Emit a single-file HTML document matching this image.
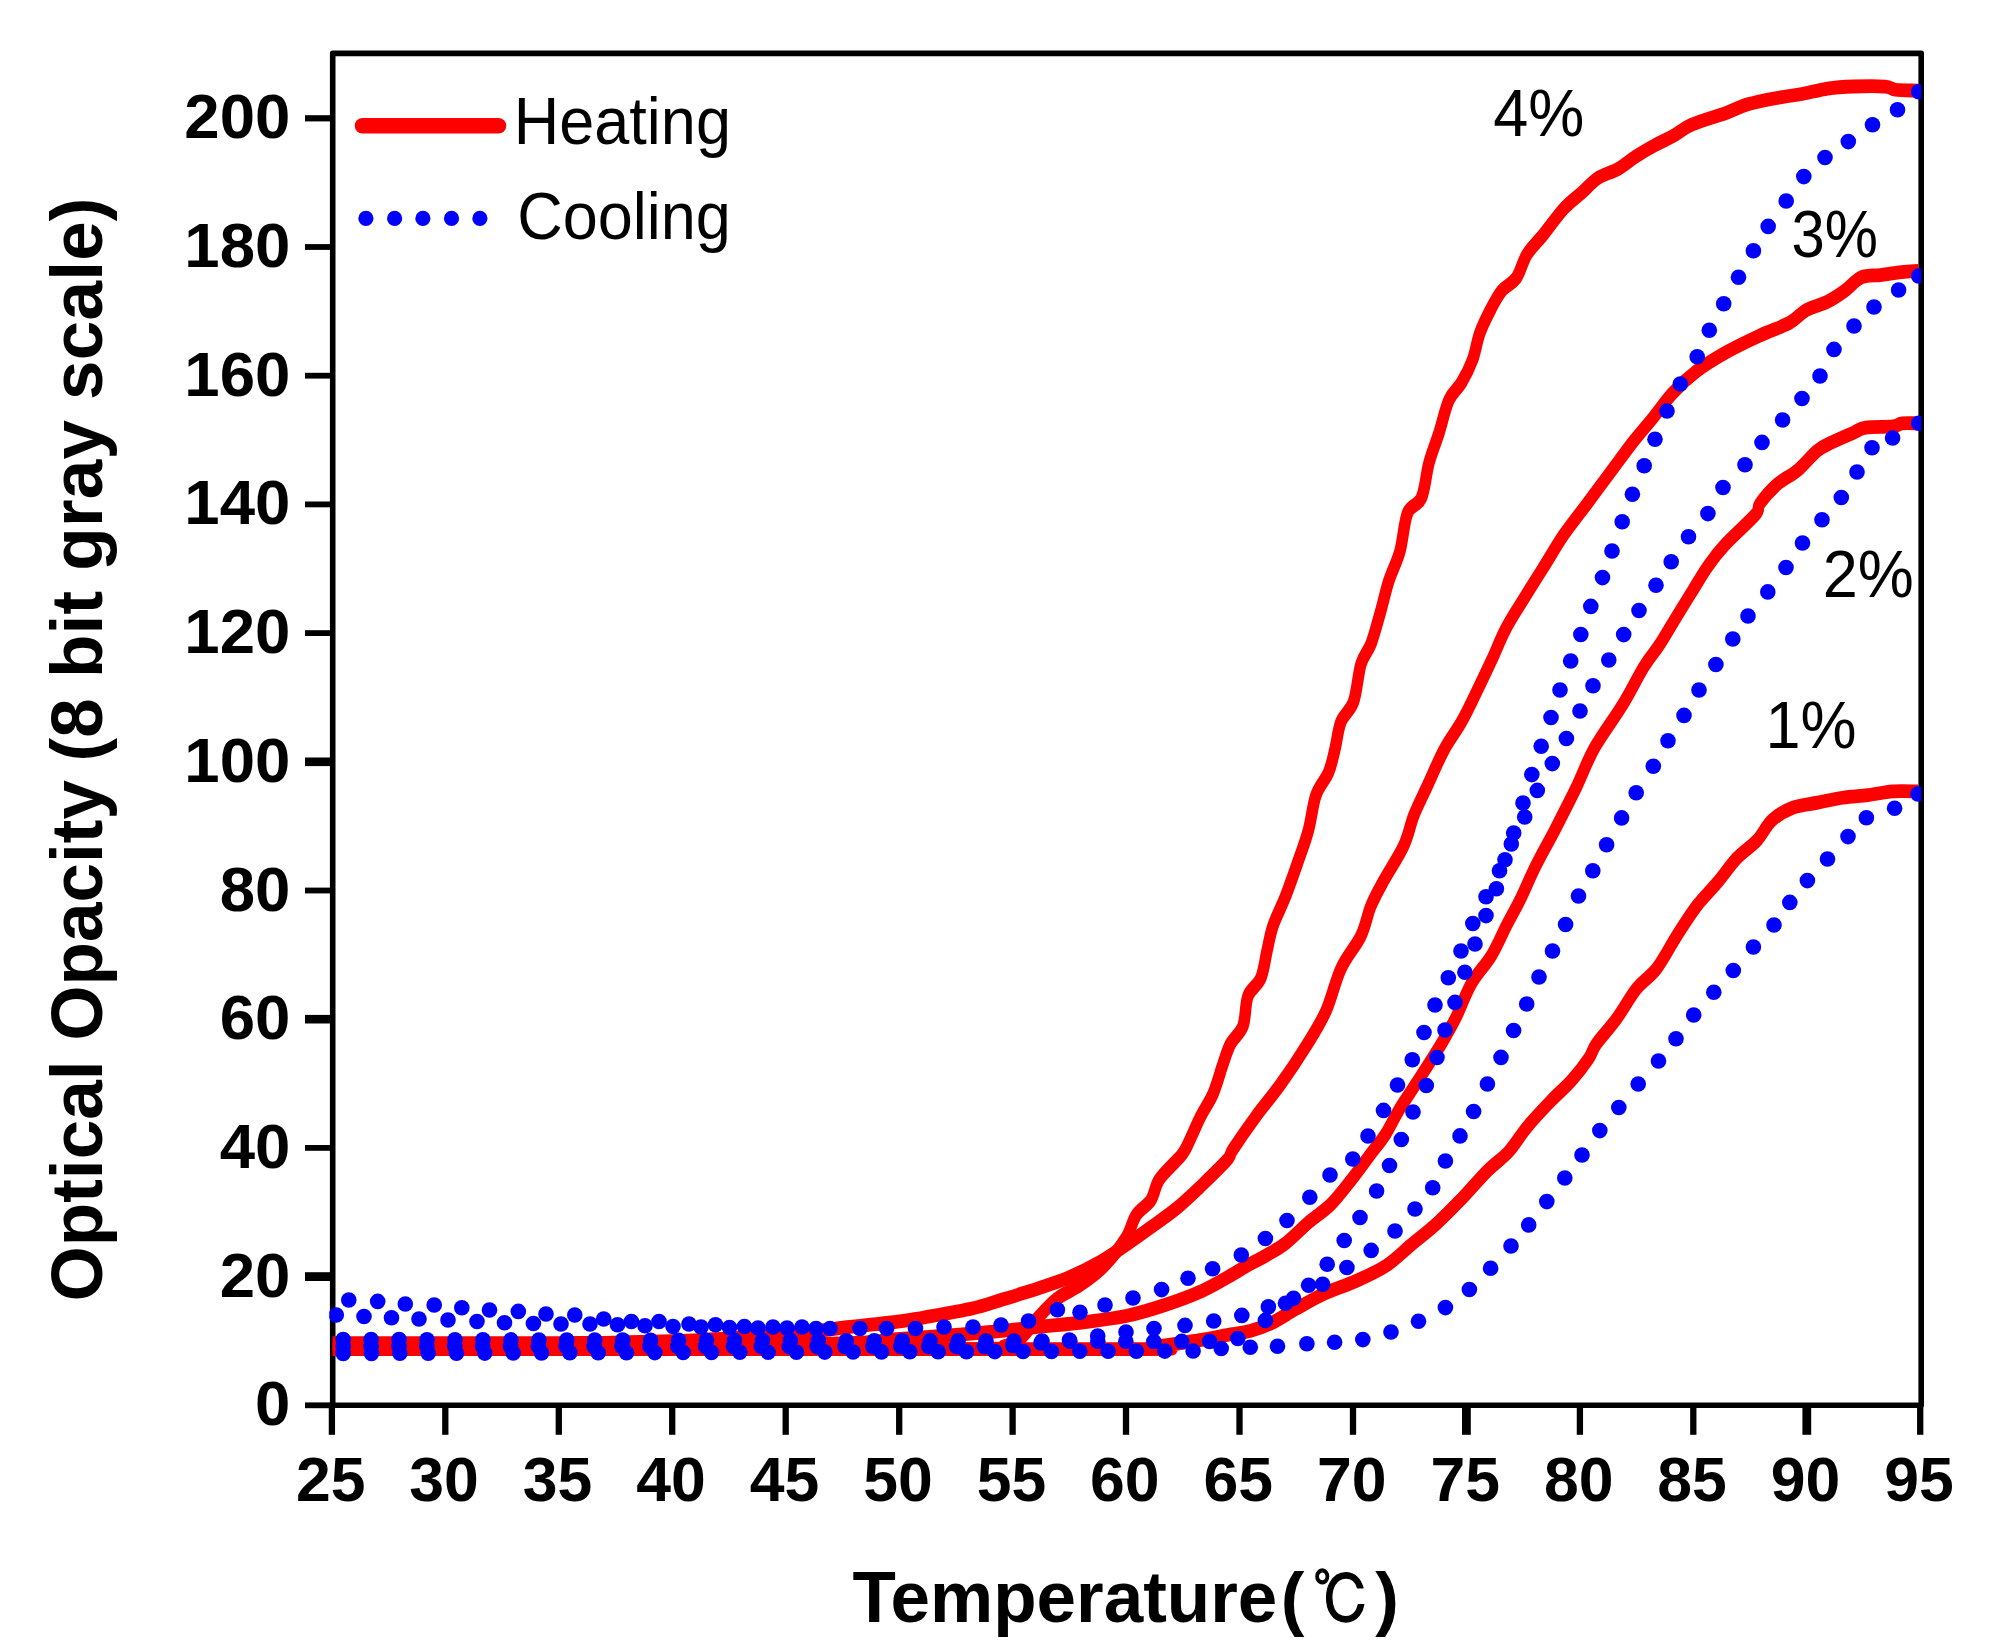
<!DOCTYPE html>
<html lang="en"><head><meta charset="utf-8"><title>Optical Opacity vs Temperature</title>
<style>html,body{margin:0;padding:0;background:#fff;}body{width:1991px;height:1651px;overflow:hidden;}svg{display:block;}text{font-family:"Liberation Sans","Noto Sans CJK SC",sans-serif;fill:#000;}.b{font-weight:bold;}.red{fill:none;stroke:#fe0000;stroke-width:11.5;stroke-linejoin:round;stroke-linecap:butt;}.blue{fill:none;stroke:#0000fe;stroke-width:15.6;stroke-linecap:round;stroke-linejoin:round;stroke-dasharray:0.01 28.34;}.dot{fill:#0000fe;}.ax{stroke:#000;fill:none;}</style></head><body>
<svg width="1991" height="1651" viewBox="0 0 1991 1651">
<rect x="0" y="0" width="1991" height="1651" fill="#fff"/>
<defs><clipPath id="plot"><rect x="329.2" y="53.4" width="1592.0" height="1351.6"/></clipPath></defs>
<g class="ax" stroke-linecap="butt">
<rect x="332.7" y="53.4" width="1588.5" height="1351.9" stroke-width="5.6" stroke-linejoin="round"/>
<line x1="305" y1="1405.3" x2="332.7" y2="1405.3" stroke-width="5.8"/>
<line x1="305" y1="1276.6" x2="332.7" y2="1276.6" stroke-width="8.8"/>
<line x1="305" y1="1147.9" x2="332.7" y2="1147.9" stroke-width="5.8"/>
<line x1="305" y1="1019.2" x2="332.7" y2="1019.2" stroke-width="8.6"/>
<line x1="305" y1="890.5" x2="332.7" y2="890.5" stroke-width="5.8"/>
<line x1="305" y1="761.8" x2="332.7" y2="761.8" stroke-width="8.6"/>
<line x1="305" y1="633.1" x2="332.7" y2="633.1" stroke-width="5.8"/>
<line x1="305" y1="504.4" x2="332.7" y2="504.4" stroke-width="5.8"/>
<line x1="305" y1="375.7" x2="332.7" y2="375.7" stroke-width="5.8"/>
<line x1="305" y1="247.0" x2="332.7" y2="247.0" stroke-width="5.8"/>
<line x1="305" y1="118.3" x2="332.7" y2="118.3" stroke-width="6.2"/>
<line x1="331.9" y1="1405.3" x2="331.9" y2="1434.8" stroke-width="6.3"/>
<line x1="445.3" y1="1405.3" x2="445.3" y2="1434.8" stroke-width="6.3"/>
<line x1="558.8" y1="1405.3" x2="558.8" y2="1434.8" stroke-width="6.3"/>
<line x1="672.2" y1="1405.3" x2="672.2" y2="1434.8" stroke-width="6.3"/>
<line x1="785.7" y1="1405.3" x2="785.7" y2="1434.8" stroke-width="6.3"/>
<line x1="899.2" y1="1405.3" x2="899.2" y2="1434.8" stroke-width="6.3"/>
<line x1="1012.6" y1="1405.3" x2="1012.6" y2="1434.8" stroke-width="6.3"/>
<line x1="1126.0" y1="1405.3" x2="1126.0" y2="1434.8" stroke-width="6.3"/>
<line x1="1239.5" y1="1405.3" x2="1239.5" y2="1434.8" stroke-width="6.3"/>
<line x1="1353.0" y1="1405.3" x2="1353.0" y2="1434.8" stroke-width="6.3"/>
<line x1="1466.4" y1="1405.3" x2="1466.4" y2="1434.8" stroke-width="8.8"/>
<line x1="1579.9" y1="1405.3" x2="1579.9" y2="1434.8" stroke-width="6.3"/>
<line x1="1693.3" y1="1405.3" x2="1693.3" y2="1434.8" stroke-width="6.3"/>
<line x1="1806.8" y1="1405.3" x2="1806.8" y2="1434.8" stroke-width="8.8"/>
<line x1="1920.2" y1="1405.3" x2="1920.2" y2="1434.8" stroke-width="6.3"/>
</g>
<g clip-path="url(#plot)">
<g transform="scale(1 1.2)">
<path class="red" d="M332.7 1124.2C460.6 1124.2 963.6 1124.4 1100.0 1124.2C1236.4 1123.9 1134.3 1123.8 1151.0 1122.5C1167.7 1121.2 1187.3 1118.3 1200.0 1116.7C1212.7 1115.0 1218.7 1113.8 1227.0 1112.5C1235.3 1111.2 1242.7 1110.8 1250.0 1109.2C1257.3 1107.6 1263.2 1105.9 1271.0 1102.8C1278.8 1099.7 1287.8 1094.6 1296.6 1090.5C1305.4 1086.4 1314.1 1082.0 1324.0 1078.2C1333.9 1074.3 1345.7 1071.4 1356.0 1067.5C1366.3 1063.6 1376.5 1060.0 1385.7 1055.0C1394.9 1050.0 1402.5 1043.4 1411.0 1037.5C1419.5 1031.6 1428.0 1026.3 1436.5 1019.8C1445.0 1013.4 1453.5 1006.0 1462.0 998.7C1470.5 991.3 1479.6 982.2 1487.4 975.7C1495.2 969.2 1501.9 965.9 1508.6 959.8C1515.3 953.6 1520.6 945.6 1527.7 938.6C1534.8 931.5 1543.6 923.8 1551.0 917.4C1558.4 911.0 1565.7 906.0 1572.0 900.0C1578.3 894.0 1584.9 886.7 1589.0 881.7C1593.1 876.6 1591.9 875.3 1596.5 869.8C1601.1 864.4 1609.9 856.6 1616.6 848.9C1623.3 841.3 1630.0 830.8 1636.7 823.8C1643.4 816.9 1650.0 814.4 1656.7 807.1C1663.4 799.8 1670.1 788.6 1676.8 779.8C1683.5 771.1 1690.2 762.1 1696.9 754.8C1703.6 747.4 1710.3 742.5 1717.0 735.8C1723.7 729.2 1730.3 720.9 1737.0 715.0C1743.7 709.1 1751.2 705.6 1757.0 700.3C1762.8 695.1 1766.1 688.1 1772.0 683.6C1777.9 679.1 1784.8 675.6 1792.4 673.2C1800.0 670.7 1809.1 670.3 1817.5 668.9C1825.9 667.5 1834.2 665.8 1842.6 664.8C1851.0 663.7 1859.3 663.5 1867.7 662.7C1876.1 661.8 1884.4 660.0 1892.8 659.5C1901.2 659.0 1913.8 659.5 1918.0 659.5"/>
<path class="red" d="M332.7 1120.0C410.6 1120.0 705.5 1120.7 800.0 1120.0C894.5 1119.3 870.0 1117.4 900.0 1115.8C930.0 1114.3 957.0 1112.5 980.0 1110.8C1003.0 1109.2 1020.5 1107.4 1038.0 1105.8C1055.5 1104.3 1070.3 1103.2 1085.0 1101.7C1099.7 1100.1 1112.7 1099.0 1126.0 1096.7C1139.3 1094.3 1152.3 1091.0 1165.0 1087.5C1177.7 1084.0 1191.5 1079.7 1202.0 1075.8C1212.5 1071.9 1220.0 1067.9 1228.0 1064.2C1236.0 1060.4 1243.5 1056.4 1250.0 1053.3C1256.5 1050.3 1261.0 1048.8 1267.0 1045.8C1273.0 1042.9 1278.9 1040.5 1286.0 1035.8C1293.1 1031.2 1302.0 1023.4 1309.4 1018.1C1316.8 1012.8 1323.5 1009.8 1330.6 1003.9C1337.6 998.0 1345.0 989.8 1351.7 982.8C1358.4 975.7 1365.1 967.9 1370.8 961.6C1376.5 955.3 1381.1 951.0 1385.7 945.0C1390.3 939.0 1393.8 932.2 1398.4 925.8C1403.0 919.4 1407.9 913.5 1413.2 906.7C1418.5 899.9 1425.0 891.5 1430.0 885.0C1435.0 878.5 1438.6 873.9 1443.0 867.5C1447.4 861.1 1451.8 854.9 1456.6 846.8C1461.4 838.8 1465.8 827.7 1471.7 819.2C1477.6 810.7 1486.0 803.9 1491.8 795.8C1497.6 787.8 1501.9 778.8 1506.8 770.8C1511.7 762.9 1516.2 756.5 1521.0 748.3C1525.8 740.1 1530.1 731.1 1535.7 721.7C1541.3 712.2 1548.1 702.5 1554.8 691.7C1561.5 680.8 1569.4 668.1 1576.0 656.7C1582.6 645.3 1586.7 634.9 1594.5 623.3C1602.3 611.8 1614.4 598.6 1622.6 587.3C1630.8 576.1 1637.6 564.3 1643.8 555.8C1650.0 547.4 1654.5 543.8 1660.0 536.7C1665.5 529.6 1671.5 520.8 1677.0 513.3C1682.5 505.8 1687.7 498.8 1693.0 491.7C1698.3 484.6 1703.3 477.2 1708.8 470.8C1714.3 464.4 1718.0 460.3 1725.8 453.3C1733.6 446.3 1749.8 434.3 1755.5 428.8C1761.2 423.2 1756.2 424.0 1759.7 419.9C1763.2 415.8 1770.3 408.7 1776.7 404.0C1783.1 399.3 1791.2 396.4 1797.9 391.7C1804.6 387.0 1811.3 379.6 1817.0 375.8C1822.7 371.9 1825.8 371.2 1831.8 368.7C1837.8 366.2 1847.3 362.8 1853.0 360.8C1858.7 358.7 1859.0 357.2 1865.7 356.3C1872.4 355.4 1887.0 356.0 1893.0 355.4C1899.0 354.8 1897.5 353.2 1901.8 352.8C1906.1 352.3 1915.9 352.8 1918.7 352.8"/>
<path class="red" d="M332.7 1119.2C370.6 1119.2 513.1 1119.2 560.0 1119.2C606.9 1119.1 590.7 1119.2 614.0 1118.8C637.3 1118.3 675.7 1117.6 700.0 1116.7C724.3 1115.8 742.2 1114.4 760.0 1113.3C777.8 1112.2 792.0 1111.2 807.0 1110.0C822.0 1108.8 834.5 1107.3 850.0 1105.8C865.5 1104.4 887.7 1102.6 900.0 1101.2C912.3 1099.9 912.0 1099.7 924.0 1097.9C936.0 1096.1 959.2 1092.8 972.0 1090.4C984.8 1088.0 992.9 1085.3 1001.0 1083.3C1009.1 1081.3 1013.2 1080.3 1020.5 1078.3C1027.8 1076.4 1037.0 1074.0 1045.0 1071.7C1053.0 1069.4 1059.6 1067.9 1068.8 1064.6C1078.0 1061.3 1090.5 1056.2 1100.0 1051.7C1109.5 1047.2 1117.7 1042.2 1126.0 1037.5C1134.3 1032.8 1141.5 1028.5 1150.0 1023.3C1158.5 1018.2 1168.7 1012.4 1177.0 1006.7C1185.3 1001.0 1191.7 995.8 1200.0 989.2C1208.3 982.5 1221.5 971.9 1227.0 966.7C1232.5 961.4 1228.2 963.8 1233.0 957.8C1237.8 951.7 1247.7 939.7 1255.7 930.6C1263.7 921.5 1272.4 913.1 1280.8 903.3C1289.2 893.6 1298.5 882.1 1306.0 871.9C1313.5 861.8 1320.2 853.3 1326.0 842.5C1331.8 831.7 1335.2 817.5 1341.0 807.1C1346.8 796.6 1356.0 788.6 1361.0 779.8C1366.0 771.1 1367.2 762.4 1371.0 754.8C1374.8 747.1 1378.3 742.2 1383.8 733.8C1389.3 725.5 1398.9 713.6 1403.9 704.5C1408.9 695.4 1410.1 687.4 1413.9 679.4C1417.7 671.4 1421.5 665.5 1426.5 656.4C1431.5 647.3 1438.2 634.2 1444.0 625.0C1449.8 615.8 1456.2 609.5 1461.6 601.4C1467.0 593.4 1471.5 585.2 1476.5 576.7C1481.5 568.2 1486.6 559.2 1491.5 550.4C1496.4 541.7 1500.2 532.9 1505.7 524.2C1511.2 515.4 1518.2 506.7 1524.6 497.9C1531.0 489.2 1537.7 480.4 1544.3 471.7C1550.9 462.9 1556.8 454.2 1564.0 445.4C1571.2 436.7 1579.8 427.9 1587.6 419.2C1595.4 410.4 1603.4 401.4 1611.0 392.9C1618.6 384.4 1625.9 375.9 1633.0 368.3C1640.1 360.8 1647.1 354.3 1653.7 347.5C1660.3 340.7 1665.8 333.8 1672.8 327.5C1679.8 321.2 1687.2 315.3 1696.0 309.7C1704.8 304.1 1715.2 298.8 1725.8 293.8C1736.4 288.8 1749.1 283.8 1759.7 279.7C1770.3 275.5 1781.6 272.6 1789.4 269.1C1797.2 265.5 1800.0 261.3 1806.4 258.3C1812.8 255.4 1821.2 254.1 1827.6 251.4C1833.9 248.8 1838.8 245.9 1844.5 242.5C1850.2 239.1 1855.5 233.3 1861.5 231.1C1867.5 228.9 1873.9 229.9 1880.6 229.2C1887.3 228.4 1895.4 227.2 1901.8 226.7C1908.2 226.1 1915.9 226.0 1918.7 225.8"/>
<path class="red" d="M332.7 1124.2C393.9 1124.2 593.8 1124.2 700.0 1124.2C806.2 1124.2 919.2 1124.6 970.0 1124.2C1020.8 1123.8 996.3 1123.3 1005.0 1121.7C1013.7 1120.0 1016.8 1117.8 1022.0 1114.2C1027.2 1110.6 1030.2 1105.3 1036.0 1100.0C1041.8 1094.7 1049.2 1087.4 1056.7 1082.5C1064.2 1077.6 1072.9 1075.1 1080.8 1070.5C1088.7 1065.9 1096.5 1061.5 1104.0 1055.0C1111.5 1048.5 1120.7 1038.7 1126.0 1031.7C1131.3 1024.7 1131.8 1018.2 1136.0 1012.9C1140.2 1007.6 1147.2 1004.9 1151.0 1000.0C1154.8 995.1 1154.7 988.9 1159.0 983.3C1163.3 977.8 1172.6 970.9 1177.0 966.7C1181.4 962.4 1181.5 963.8 1185.4 957.8C1189.3 951.7 1195.9 938.3 1200.5 930.6C1205.1 922.9 1209.2 919.0 1213.0 911.7C1216.8 904.3 1220.1 893.6 1223.0 886.7C1225.9 879.7 1227.3 875.1 1230.6 869.8C1233.9 864.6 1240.1 861.6 1243.0 855.0C1245.9 848.4 1245.0 836.6 1248.0 830.0C1251.0 823.4 1257.5 821.7 1260.7 815.4C1263.9 809.2 1265.0 799.8 1267.0 792.5C1269.0 785.2 1269.9 779.2 1273.0 771.5C1276.1 763.8 1281.6 755.5 1285.8 746.4C1290.0 737.3 1294.6 726.2 1298.4 717.1C1302.2 708.0 1305.5 701.1 1308.4 692.0C1311.3 682.9 1312.7 670.7 1316.0 662.7C1319.3 654.6 1325.4 650.1 1328.5 643.8C1331.6 637.6 1332.7 632.1 1334.8 625.0C1336.9 617.9 1337.9 608.1 1341.0 601.4C1344.1 594.7 1350.3 592.7 1353.6 584.7C1356.9 576.7 1358.1 561.4 1361.0 553.3C1363.9 545.3 1367.8 543.5 1371.0 536.5C1374.2 529.5 1377.0 520.1 1380.0 511.4C1383.0 502.7 1385.5 492.9 1388.8 484.2C1392.1 475.5 1396.9 468.6 1400.0 459.2C1403.1 449.7 1404.0 434.9 1407.6 427.5C1411.2 420.1 1417.8 421.9 1421.4 415.0C1425.0 408.1 1426.1 394.9 1429.0 385.8C1431.9 376.8 1435.7 369.5 1439.0 360.8C1442.3 352.0 1445.2 340.3 1449.0 333.3C1452.8 326.3 1457.7 324.4 1461.6 318.8C1465.5 313.3 1469.4 306.9 1472.5 300.0C1475.6 293.1 1476.9 284.2 1480.0 277.2C1483.1 270.1 1487.3 263.3 1490.9 257.5C1494.5 251.7 1497.6 246.6 1501.8 242.3C1506.0 238.0 1512.1 236.7 1516.3 231.7C1520.5 226.6 1522.5 218.1 1527.0 212.0C1531.5 205.9 1537.5 201.6 1543.6 195.3C1549.7 189.0 1557.2 180.0 1563.5 174.2C1569.8 168.4 1576.0 164.9 1581.7 160.6C1587.5 156.3 1592.0 151.6 1598.0 148.3C1604.0 145.0 1611.7 143.8 1618.0 140.8C1624.3 137.8 1629.9 133.5 1636.0 130.3C1642.1 127.0 1648.3 123.9 1654.4 121.2C1660.5 118.4 1666.3 116.5 1672.6 113.6C1678.9 110.7 1683.1 107.0 1692.0 103.8C1700.9 100.5 1716.6 96.9 1725.8 94.2C1735.0 91.4 1738.5 89.2 1747.0 87.1C1755.5 85.0 1767.5 83.1 1776.7 81.7C1785.9 80.2 1793.5 79.6 1802.0 78.3C1810.5 77.0 1819.1 74.9 1827.6 73.8C1836.1 72.8 1843.5 72.4 1853.0 72.1C1862.5 71.8 1877.7 71.6 1884.8 72.1C1891.9 72.5 1889.8 74.2 1895.4 74.8C1901.1 75.3 1914.8 75.4 1918.7 75.6"/>
</g>
<circle class="dot" cx="343.2" cy="1353.5" r="7.8"/>
<circle class="dot" cx="371.5" cy="1353.4" r="7.8"/>
<circle class="dot" cx="399.9" cy="1353.3" r="7.8"/>
<circle class="dot" cx="428.2" cy="1353.2" r="7.8"/>
<circle class="dot" cx="456.5" cy="1353.2" r="7.8"/>
<circle class="dot" cx="484.8" cy="1353.1" r="7.8"/>
<circle class="dot" cx="513.2" cy="1353.0" r="7.8"/>
<circle class="dot" cx="541.5" cy="1352.9" r="7.8"/>
<circle class="dot" cx="569.8" cy="1352.8" r="7.8"/>
<circle class="dot" cx="598.2" cy="1352.8" r="7.8"/>
<circle class="dot" cx="626.5" cy="1352.7" r="7.8"/>
<circle class="dot" cx="654.8" cy="1352.6" r="7.8"/>
<circle class="dot" cx="683.2" cy="1352.5" r="7.8"/>
<circle class="dot" cx="711.5" cy="1352.4" r="7.8"/>
<circle class="dot" cx="739.8" cy="1352.3" r="7.8"/>
<circle class="dot" cx="768.1" cy="1352.2" r="7.8"/>
<circle class="dot" cx="796.5" cy="1352.2" r="7.8"/>
<circle class="dot" cx="824.8" cy="1352.1" r="7.8"/>
<circle class="dot" cx="853.1" cy="1352.0" r="7.8"/>
<circle class="dot" cx="881.5" cy="1351.9" r="7.8"/>
<circle class="dot" cx="909.8" cy="1351.8" r="7.8"/>
<circle class="dot" cx="938.1" cy="1351.8" r="7.8"/>
<circle class="dot" cx="966.5" cy="1351.7" r="7.8"/>
<circle class="dot" cx="994.8" cy="1351.6" r="7.8"/>
<circle class="dot" cx="1023.1" cy="1351.5" r="7.8"/>
<circle class="dot" cx="1051.5" cy="1351.4" r="7.8"/>
<circle class="dot" cx="1079.8" cy="1351.3" r="7.8"/>
<circle class="dot" cx="1108.1" cy="1351.2" r="7.8"/>
<circle class="dot" cx="1136.4" cy="1351.2" r="7.8"/>
<circle class="dot" cx="1164.8" cy="1351.1" r="7.8"/>
<circle class="dot" cx="1193.1" cy="1351.0" r="7.8"/>
<circle class="dot" cx="1221.2" cy="1348.5" r="7.8"/>
<circle class="dot" cx="1250.3" cy="1347.3" r="7.8"/>
<circle class="dot" cx="1277.5" cy="1346.2" r="7.8"/>
<circle class="dot" cx="1306.9" cy="1343.8" r="7.8"/>
<circle class="dot" cx="1334.6" cy="1342.3" r="7.8"/>
<circle class="dot" cx="1362.8" cy="1339.6" r="7.8"/>
<circle class="dot" cx="1391.0" cy="1332.0" r="7.8"/>
<circle class="dot" cx="1418.5" cy="1321.3" r="7.8"/>
<circle class="dot" cx="1445.4" cy="1307.6" r="7.8"/>
<circle class="dot" cx="1469.4" cy="1289.5" r="7.8"/>
<circle class="dot" cx="1490.6" cy="1268.3" r="7.8"/>
<circle class="dot" cx="1511.0" cy="1246.0" r="7.8"/>
<circle class="dot" cx="1528.7" cy="1224.9" r="7.8"/>
<circle class="dot" cx="1546.8" cy="1201.6" r="7.8"/>
<circle class="dot" cx="1564.8" cy="1178.0" r="7.8"/>
<circle class="dot" cx="1582.0" cy="1155.0" r="7.8"/>
<circle class="dot" cx="1599.8" cy="1130.6" r="7.8"/>
<circle class="dot" cx="1618.8" cy="1107.5" r="7.8"/>
<circle class="dot" cx="1638.2" cy="1084.0" r="7.8"/>
<circle class="dot" cx="1658.5" cy="1061.0" r="7.8"/>
<circle class="dot" cx="1676.0" cy="1038.8" r="7.8"/>
<circle class="dot" cx="1693.7" cy="1015.0" r="7.8"/>
<circle class="dot" cx="1713.8" cy="992.3" r="7.8"/>
<circle class="dot" cx="1733.3" cy="970.5" r="7.8"/>
<circle class="dot" cx="1753.4" cy="947.0" r="7.8"/>
<circle class="dot" cx="1774.0" cy="925.0" r="7.8"/>
<circle class="dot" cx="1789.8" cy="902.4" r="7.8"/>
<circle class="dot" cx="1807.4" cy="880.6" r="7.8"/>
<circle class="dot" cx="1827.5" cy="859.0" r="7.8"/>
<circle class="dot" cx="1848.0" cy="836.6" r="7.8"/>
<circle class="dot" cx="1866.4" cy="817.8" r="7.8"/>
<circle class="dot" cx="1894.6" cy="808.3" r="7.8"/>
<circle class="dot" cx="1918.0" cy="794.0" r="7.8"/>
<circle class="dot" cx="343.2" cy="1346.5" r="7.8"/>
<circle class="dot" cx="371.1" cy="1346.5" r="7.8"/>
<circle class="dot" cx="399.0" cy="1346.5" r="7.8"/>
<circle class="dot" cx="426.8" cy="1346.5" r="7.8"/>
<circle class="dot" cx="454.7" cy="1346.5" r="7.8"/>
<circle class="dot" cx="482.6" cy="1346.5" r="7.8"/>
<circle class="dot" cx="510.5" cy="1346.5" r="7.8"/>
<circle class="dot" cx="538.4" cy="1346.5" r="7.8"/>
<circle class="dot" cx="566.2" cy="1346.5" r="7.8"/>
<circle class="dot" cx="594.1" cy="1346.5" r="7.8"/>
<circle class="dot" cx="622.0" cy="1346.5" r="7.8"/>
<circle class="dot" cx="649.9" cy="1346.5" r="7.8"/>
<circle class="dot" cx="677.8" cy="1346.5" r="7.8"/>
<circle class="dot" cx="705.6" cy="1346.5" r="7.8"/>
<circle class="dot" cx="733.5" cy="1346.5" r="7.8"/>
<circle class="dot" cx="761.4" cy="1346.5" r="7.8"/>
<circle class="dot" cx="789.3" cy="1346.5" r="7.8"/>
<circle class="dot" cx="817.2" cy="1346.5" r="7.8"/>
<circle class="dot" cx="845.0" cy="1346.5" r="7.8"/>
<circle class="dot" cx="872.9" cy="1346.5" r="7.8"/>
<circle class="dot" cx="900.8" cy="1346.5" r="7.8"/>
<circle class="dot" cx="928.7" cy="1346.5" r="7.8"/>
<circle class="dot" cx="956.6" cy="1346.5" r="7.8"/>
<circle class="dot" cx="984.4" cy="1346.5" r="7.8"/>
<circle class="dot" cx="1012.8" cy="1345.5" r="7.8"/>
<circle class="dot" cx="1041.0" cy="1343.0" r="7.8"/>
<circle class="dot" cx="1069.4" cy="1340.0" r="7.8"/>
<circle class="dot" cx="1097.7" cy="1336.0" r="7.8"/>
<circle class="dot" cx="1126.0" cy="1332.0" r="7.8"/>
<circle class="dot" cx="1154.0" cy="1328.5" r="7.8"/>
<circle class="dot" cx="1185.0" cy="1325.4" r="7.8"/>
<circle class="dot" cx="1213.7" cy="1321.0" r="7.8"/>
<circle class="dot" cx="1241.8" cy="1315.4" r="7.8"/>
<circle class="dot" cx="1268.4" cy="1306.8" r="7.8"/>
<circle class="dot" cx="1293.5" cy="1298.3" r="7.8"/>
<circle class="dot" cx="1322.6" cy="1284.2" r="7.8"/>
<circle class="dot" cx="1346.9" cy="1267.5" r="7.8"/>
<circle class="dot" cx="1371.2" cy="1250.4" r="7.8"/>
<circle class="dot" cx="1395.0" cy="1231.0" r="7.8"/>
<circle class="dot" cx="1415.0" cy="1209.0" r="7.8"/>
<circle class="dot" cx="1432.7" cy="1187.8" r="7.8"/>
<circle class="dot" cx="1445.4" cy="1161.0" r="7.8"/>
<circle class="dot" cx="1460.0" cy="1135.9" r="7.8"/>
<circle class="dot" cx="1473.6" cy="1111.5" r="7.8"/>
<circle class="dot" cx="1487.4" cy="1084.0" r="7.8"/>
<circle class="dot" cx="1501.0" cy="1057.4" r="7.8"/>
<circle class="dot" cx="1513.6" cy="1030.5" r="7.8"/>
<circle class="dot" cx="1526.7" cy="1004.0" r="7.8"/>
<circle class="dot" cx="1539.0" cy="977.0" r="7.8"/>
<circle class="dot" cx="1552.5" cy="951.0" r="7.8"/>
<circle class="dot" cx="1565.6" cy="924.5" r="7.8"/>
<circle class="dot" cx="1578.5" cy="896.0" r="7.8"/>
<circle class="dot" cx="1592.8" cy="870.7" r="7.8"/>
<circle class="dot" cx="1606.6" cy="844.7" r="7.8"/>
<circle class="dot" cx="1621.6" cy="817.9" r="7.8"/>
<circle class="dot" cx="1636.2" cy="792.7" r="7.8"/>
<circle class="dot" cx="1653.3" cy="766.2" r="7.8"/>
<circle class="dot" cx="1668.0" cy="740.8" r="7.8"/>
<circle class="dot" cx="1684.0" cy="715.4" r="7.8"/>
<circle class="dot" cx="1699.0" cy="690.0" r="7.8"/>
<circle class="dot" cx="1715.9" cy="664.5" r="7.8"/>
<circle class="dot" cx="1732.8" cy="639.0" r="7.8"/>
<circle class="dot" cx="1748.0" cy="616.0" r="7.8"/>
<circle class="dot" cx="1767.8" cy="591.9" r="7.8"/>
<circle class="dot" cx="1786.0" cy="567.5" r="7.8"/>
<circle class="dot" cx="1802.5" cy="543.0" r="7.8"/>
<circle class="dot" cx="1822.0" cy="519.8" r="7.8"/>
<circle class="dot" cx="1841.3" cy="497.5" r="7.8"/>
<circle class="dot" cx="1857.0" cy="472.0" r="7.8"/>
<circle class="dot" cx="1872.0" cy="447.7" r="7.8"/>
<circle class="dot" cx="1892.6" cy="438.0" r="7.8"/>
<circle class="dot" cx="1918.7" cy="423.3" r="7.8"/>
<circle class="dot" cx="343.2" cy="1339.5" r="7.8"/>
<circle class="dot" cx="371.1" cy="1339.6" r="7.8"/>
<circle class="dot" cx="399.1" cy="1339.6" r="7.8"/>
<circle class="dot" cx="427.0" cy="1339.7" r="7.8"/>
<circle class="dot" cx="455.0" cy="1339.8" r="7.8"/>
<circle class="dot" cx="482.9" cy="1339.8" r="7.8"/>
<circle class="dot" cx="510.9" cy="1339.9" r="7.8"/>
<circle class="dot" cx="538.9" cy="1340.0" r="7.8"/>
<circle class="dot" cx="566.8" cy="1340.0" r="7.8"/>
<circle class="dot" cx="594.8" cy="1340.1" r="7.8"/>
<circle class="dot" cx="622.7" cy="1340.1" r="7.8"/>
<circle class="dot" cx="650.6" cy="1340.2" r="7.8"/>
<circle class="dot" cx="678.6" cy="1340.3" r="7.8"/>
<circle class="dot" cx="706.5" cy="1340.3" r="7.8"/>
<circle class="dot" cx="734.5" cy="1340.4" r="7.8"/>
<circle class="dot" cx="762.5" cy="1340.5" r="7.8"/>
<circle class="dot" cx="790.4" cy="1340.5" r="7.8"/>
<circle class="dot" cx="818.3" cy="1340.6" r="7.8"/>
<circle class="dot" cx="846.3" cy="1340.7" r="7.8"/>
<circle class="dot" cx="874.2" cy="1340.7" r="7.8"/>
<circle class="dot" cx="902.2" cy="1340.8" r="7.8"/>
<circle class="dot" cx="930.1" cy="1340.9" r="7.8"/>
<circle class="dot" cx="958.1" cy="1340.9" r="7.8"/>
<circle class="dot" cx="986.0" cy="1341.0" r="7.8"/>
<circle class="dot" cx="1014.0" cy="1341.0" r="7.8"/>
<circle class="dot" cx="1042.0" cy="1341.1" r="7.8"/>
<circle class="dot" cx="1069.9" cy="1341.2" r="7.8"/>
<circle class="dot" cx="1097.8" cy="1341.2" r="7.8"/>
<circle class="dot" cx="1125.8" cy="1341.3" r="7.8"/>
<circle class="dot" cx="1153.8" cy="1341.4" r="7.8"/>
<circle class="dot" cx="1181.7" cy="1341.4" r="7.8"/>
<circle class="dot" cx="1209.6" cy="1341.5" r="7.8"/>
<circle class="dot" cx="1237.8" cy="1338.5" r="7.8"/>
<circle class="dot" cx="1265.4" cy="1320.4" r="7.8"/>
<circle class="dot" cx="1285.5" cy="1303.3" r="7.8"/>
<circle class="dot" cx="1308.6" cy="1285.2" r="7.8"/>
<circle class="dot" cx="1327.2" cy="1264.2" r="7.8"/>
<circle class="dot" cx="1344.2" cy="1240.5" r="7.8"/>
<circle class="dot" cx="1360.0" cy="1217.5" r="7.8"/>
<circle class="dot" cx="1376.6" cy="1191.0" r="7.8"/>
<circle class="dot" cx="1389.5" cy="1165.5" r="7.8"/>
<circle class="dot" cx="1401.3" cy="1139.5" r="7.8"/>
<circle class="dot" cx="1413.0" cy="1112.0" r="7.8"/>
<circle class="dot" cx="1426.3" cy="1085.5" r="7.8"/>
<circle class="dot" cx="1437.0" cy="1057.5" r="7.8"/>
<circle class="dot" cx="1445.0" cy="1030.0" r="7.8"/>
<circle class="dot" cx="1455.0" cy="1002.4" r="7.8"/>
<circle class="dot" cx="1464.9" cy="972.3" r="7.8"/>
<circle class="dot" cx="1475.0" cy="944.0" r="7.8"/>
<circle class="dot" cx="1486.0" cy="915.6" r="7.8"/>
<circle class="dot" cx="1496.4" cy="888.8" r="7.8"/>
<circle class="dot" cx="1505.0" cy="859.7" r="7.8"/>
<circle class="dot" cx="1513.7" cy="833.0" r="7.8"/>
<circle class="dot" cx="1523.0" cy="803.0" r="7.8"/>
<circle class="dot" cx="1531.8" cy="774.6" r="7.8"/>
<circle class="dot" cx="1541.2" cy="746.2" r="7.8"/>
<circle class="dot" cx="1551.0" cy="717.5" r="7.8"/>
<circle class="dot" cx="1560.0" cy="690.0" r="7.8"/>
<circle class="dot" cx="1570.7" cy="661.0" r="7.8"/>
<circle class="dot" cx="1580.8" cy="634.5" r="7.8"/>
<circle class="dot" cx="1590.8" cy="606.4" r="7.8"/>
<circle class="dot" cx="1602.5" cy="577.6" r="7.8"/>
<circle class="dot" cx="1612.0" cy="551.0" r="7.8"/>
<circle class="dot" cx="1622.2" cy="521.7" r="7.8"/>
<circle class="dot" cx="1632.4" cy="494.2" r="7.8"/>
<circle class="dot" cx="1644.2" cy="465.8" r="7.8"/>
<circle class="dot" cx="1655.0" cy="439.2" r="7.8"/>
<circle class="dot" cx="1667.0" cy="411.0" r="7.8"/>
<circle class="dot" cx="1680.3" cy="384.0" r="7.8"/>
<circle class="dot" cx="1697.2" cy="356.8" r="7.8"/>
<circle class="dot" cx="1709.3" cy="330.3" r="7.8"/>
<circle class="dot" cx="1723.7" cy="303.8" r="7.8"/>
<circle class="dot" cx="1738.5" cy="277.3" r="7.8"/>
<circle class="dot" cx="1753.4" cy="250.8" r="7.8"/>
<circle class="dot" cx="1768.2" cy="226.4" r="7.8"/>
<circle class="dot" cx="1786.2" cy="201.0" r="7.8"/>
<circle class="dot" cx="1803.8" cy="176.6" r="7.8"/>
<circle class="dot" cx="1825.0" cy="157.5" r="7.8"/>
<circle class="dot" cx="1848.3" cy="141.6" r="7.8"/>
<circle class="dot" cx="1872.5" cy="124.7" r="7.8"/>
<circle class="dot" cx="1897.5" cy="109.8" r="7.8"/>
<circle class="dot" cx="1918.7" cy="91.8" r="7.8"/>
<circle class="dot" cx="830.0" cy="1328.5" r="7.8"/>
<circle class="dot" cx="860.0" cy="1328.5" r="7.8"/>
<circle class="dot" cx="886.6" cy="1328.5" r="7.8"/>
<circle class="dot" cx="915.5" cy="1328.5" r="7.8"/>
<circle class="dot" cx="944.0" cy="1327.0" r="7.8"/>
<circle class="dot" cx="973.0" cy="1327.0" r="7.8"/>
<circle class="dot" cx="1001.0" cy="1325.0" r="7.8"/>
<circle class="dot" cx="1028.5" cy="1321.0" r="7.8"/>
<circle class="dot" cx="1057.4" cy="1309.7" r="7.8"/>
<circle class="dot" cx="1080.0" cy="1312.2" r="7.8"/>
<circle class="dot" cx="1105.0" cy="1305.0" r="7.8"/>
<circle class="dot" cx="1133.0" cy="1298.0" r="7.8"/>
<circle class="dot" cx="1161.6" cy="1289.6" r="7.8"/>
<circle class="dot" cx="1188.0" cy="1278.2" r="7.8"/>
<circle class="dot" cx="1212.6" cy="1268.7" r="7.8"/>
<circle class="dot" cx="1241.3" cy="1255.0" r="7.8"/>
<circle class="dot" cx="1265.4" cy="1238.5" r="7.8"/>
<circle class="dot" cx="1287.0" cy="1220.5" r="7.8"/>
<circle class="dot" cx="1309.8" cy="1197.3" r="7.8"/>
<circle class="dot" cx="1330.0" cy="1175.0" r="7.8"/>
<circle class="dot" cx="1352.8" cy="1159.0" r="7.8"/>
<circle class="dot" cx="1368.0" cy="1136.0" r="7.8"/>
<circle class="dot" cx="1383.5" cy="1110.4" r="7.8"/>
<circle class="dot" cx="1397.5" cy="1085.0" r="7.8"/>
<circle class="dot" cx="1412.3" cy="1059.8" r="7.8"/>
<circle class="dot" cx="1424.0" cy="1032.5" r="7.8"/>
<circle class="dot" cx="1435.0" cy="1005.0" r="7.8"/>
<circle class="dot" cx="1448.3" cy="977.8" r="7.8"/>
<circle class="dot" cx="1461.0" cy="951.0" r="7.8"/>
<circle class="dot" cx="1472.8" cy="923.5" r="7.8"/>
<circle class="dot" cx="1486.0" cy="896.7" r="7.8"/>
<circle class="dot" cx="1499.5" cy="870.7" r="7.8"/>
<circle class="dot" cx="1511.3" cy="844.0" r="7.8"/>
<circle class="dot" cx="1524.7" cy="817.0" r="7.8"/>
<circle class="dot" cx="1537.3" cy="790.4" r="7.8"/>
<circle class="dot" cx="1552.3" cy="763.6" r="7.8"/>
<circle class="dot" cx="1566.4" cy="738.5" r="7.8"/>
<circle class="dot" cx="1580.0" cy="711.0" r="7.8"/>
<circle class="dot" cx="1593.0" cy="685.7" r="7.8"/>
<circle class="dot" cx="1608.8" cy="660.0" r="7.8"/>
<circle class="dot" cx="1623.7" cy="634.6" r="7.8"/>
<circle class="dot" cx="1639.0" cy="610.5" r="7.8"/>
<circle class="dot" cx="1656.0" cy="585.2" r="7.8"/>
<circle class="dot" cx="1671.2" cy="561.7" r="7.8"/>
<circle class="dot" cx="1688.5" cy="536.7" r="7.8"/>
<circle class="dot" cx="1707.9" cy="513.6" r="7.8"/>
<circle class="dot" cx="1723.0" cy="487.5" r="7.8"/>
<circle class="dot" cx="1745.0" cy="464.7" r="7.8"/>
<circle class="dot" cx="1762.0" cy="442.4" r="7.8"/>
<circle class="dot" cx="1782.6" cy="420.0" r="7.8"/>
<circle class="dot" cx="1802.0" cy="398.5" r="7.8"/>
<circle class="dot" cx="1820.0" cy="376.0" r="7.8"/>
<circle class="dot" cx="1834.0" cy="349.4" r="7.8"/>
<circle class="dot" cx="1854.0" cy="326.0" r="7.8"/>
<circle class="dot" cx="1874.0" cy="307.0" r="7.8"/>
<circle class="dot" cx="1898.6" cy="290.0" r="7.8"/>
<circle class="dot" cx="1918.7" cy="276.0" r="7.8"/>
<circle class="dot" cx="348.8" cy="1300.0" r="7.8"/>
<circle class="dot" cx="377.7" cy="1301.4" r="7.8"/>
<circle class="dot" cx="405.3" cy="1304.0" r="7.8"/>
<circle class="dot" cx="434.2" cy="1305.0" r="7.8"/>
<circle class="dot" cx="461.8" cy="1307.7" r="7.8"/>
<circle class="dot" cx="489.5" cy="1310.0" r="7.8"/>
<circle class="dot" cx="518.3" cy="1311.4" r="7.8"/>
<circle class="dot" cx="546.0" cy="1314.0" r="7.8"/>
<circle class="dot" cx="574.8" cy="1315.0" r="7.8"/>
<circle class="dot" cx="603.7" cy="1319.0" r="7.8"/>
<circle class="dot" cx="631.4" cy="1321.5" r="7.8"/>
<circle class="dot" cx="659.0" cy="1321.5" r="7.8"/>
<circle class="dot" cx="689.0" cy="1324.0" r="7.8"/>
<circle class="dot" cx="715.5" cy="1324.7" r="7.8"/>
<circle class="dot" cx="744.4" cy="1326.5" r="7.8"/>
<circle class="dot" cx="773.0" cy="1327.0" r="7.8"/>
<circle class="dot" cx="802.0" cy="1327.0" r="7.8"/>
<circle class="dot" cx="336.3" cy="1315.0" r="7.8"/>
<circle class="dot" cx="364.0" cy="1316.5" r="7.8"/>
<circle class="dot" cx="391.5" cy="1317.7" r="7.8"/>
<circle class="dot" cx="419.0" cy="1319.0" r="7.8"/>
<circle class="dot" cx="448.0" cy="1320.0" r="7.8"/>
<circle class="dot" cx="477.0" cy="1321.5" r="7.8"/>
<circle class="dot" cx="504.5" cy="1322.7" r="7.8"/>
<circle class="dot" cx="533.4" cy="1323.5" r="7.8"/>
<circle class="dot" cx="561.0" cy="1324.0" r="7.8"/>
<circle class="dot" cx="590.0" cy="1324.0" r="7.8"/>
<circle class="dot" cx="617.5" cy="1324.7" r="7.8"/>
<circle class="dot" cx="645.0" cy="1325.7" r="7.8"/>
<circle class="dot" cx="673.0" cy="1326.5" r="7.8"/>
<circle class="dot" cx="701.0" cy="1327.0" r="7.8"/>
<circle class="dot" cx="729.5" cy="1327.5" r="7.8"/>
<circle class="dot" cx="758.0" cy="1328.0" r="7.8"/>
<circle class="dot" cx="787.0" cy="1328.0" r="7.8"/>
<circle class="dot" cx="816.0" cy="1328.5" r="7.8"/>
</g>
<text class="b" font-size="63.5" text-anchor="end" transform="translate(290.3 1425.3) scale(1 1)">0</text>
<text class="b" font-size="63.5" text-anchor="end" transform="translate(290.3 1296.6) scale(1 1)">20</text>
<text class="b" font-size="63.5" text-anchor="end" transform="translate(290.3 1167.9) scale(1 1)">40</text>
<text class="b" font-size="63.5" text-anchor="end" transform="translate(290.3 1039.2) scale(1 1)">60</text>
<text class="b" font-size="63.5" text-anchor="end" transform="translate(290.3 910.5) scale(1 1)">80</text>
<text class="b" font-size="63.5" text-anchor="end" transform="translate(290.3 781.8) scale(1 1)">100</text>
<text class="b" font-size="63.5" text-anchor="end" transform="translate(290.3 653.1) scale(1 1)">120</text>
<text class="b" font-size="63.5" text-anchor="end" transform="translate(290.3 524.4) scale(1 1)">140</text>
<text class="b" font-size="63.5" text-anchor="end" transform="translate(290.3 395.7) scale(1 1)">160</text>
<text class="b" font-size="63.5" text-anchor="end" transform="translate(290.3 267.0) scale(1 1)">180</text>
<text class="b" font-size="63.5" text-anchor="end" transform="translate(290.3 138.3) scale(1 1)">200</text>
<text class="b" font-size="62.5" text-anchor="middle" transform="translate(330.7 1501.0) scale(1 1.01)">25</text>
<text class="b" font-size="62.5" text-anchor="middle" transform="translate(444.1 1501.0) scale(1 1.01)">30</text>
<text class="b" font-size="62.5" text-anchor="middle" transform="translate(557.6 1501.0) scale(1 1.01)">35</text>
<text class="b" font-size="62.5" text-anchor="middle" transform="translate(671.0 1501.0) scale(1 1.01)">40</text>
<text class="b" font-size="62.5" text-anchor="middle" transform="translate(784.5 1501.0) scale(1 1.01)">45</text>
<text class="b" font-size="62.5" text-anchor="middle" transform="translate(898.0 1501.0) scale(1 1.01)">50</text>
<text class="b" font-size="62.5" text-anchor="middle" transform="translate(1011.4 1501.0) scale(1 1.01)">55</text>
<text class="b" font-size="62.5" text-anchor="middle" transform="translate(1124.8 1501.0) scale(1 1.01)">60</text>
<text class="b" font-size="62.5" text-anchor="middle" transform="translate(1238.3 1501.0) scale(1 1.01)">65</text>
<text class="b" font-size="62.5" text-anchor="middle" transform="translate(1351.8 1501.0) scale(1 1.01)">70</text>
<text class="b" font-size="62.5" text-anchor="middle" transform="translate(1465.2 1501.0) scale(1 1.01)">75</text>
<text class="b" font-size="62.5" text-anchor="middle" transform="translate(1578.7 1501.0) scale(1 1.01)">80</text>
<text class="b" font-size="62.5" text-anchor="middle" transform="translate(1692.1 1501.0) scale(1 1.01)">85</text>
<text class="b" font-size="62.5" text-anchor="middle" transform="translate(1805.5 1501.0) scale(1 1.01)">90</text>
<text class="b" font-size="62.5" text-anchor="middle" transform="translate(1919.0 1501.0) scale(1 1.01)">95</text>
<text class="b" font-size="71" text-anchor="start" transform="translate(852.5 1622.4) scale(1 1.02)">Temperature</text>
<text class="b" font-size="71" text-anchor="start" transform="translate(1280.7 1622.4) scale(1 1)">(</text>
<text font-size="66.5" text-anchor="start" transform="translate(1313.0 1624.0) scale(0.86 1)" style="font-family:IPAGothic,'WenQuanYi Zen Hei','Noto Sans CJK JP',sans-serif" stroke="#000" stroke-width="1.4" stroke-linejoin="round">℃</text>
<text class="b" font-size="71" text-anchor="start" transform="translate(1375.2 1622.4) scale(1 1)">)</text>
<text class="b" font-size="71" transform="translate(101.5 1301.5) rotate(-90) scale(1 1.01)"><tspan x="0" textLength="521.5" lengthAdjust="spacing">Optical Opacity</tspan><tspan x="540" textLength="564" lengthAdjust="spacing">(8 bit gray scale)</tspan></text>
<line x1="362.5" y1="125.8" x2="498.5" y2="125.8" stroke="#fe0000" stroke-width="15.5" stroke-linecap="round"/>
<circle class="dot" cx="365.9" cy="218.4" r="7.6"/>
<circle class="dot" cx="394.6" cy="218.4" r="7.6"/>
<circle class="dot" cx="422.9" cy="218.4" r="7.6"/>
<circle class="dot" cx="451.5" cy="218.4" r="7.6"/>
<circle class="dot" cx="479.9" cy="218.4" r="7.6"/>
<text font-size="63" text-anchor="start" transform="translate(513.8 144.3) scale(1 1.045)">Heating</text>
<text font-size="63" text-anchor="start" transform="translate(517.3 238.8) scale(1 1.045)">Cooling</text>
<text font-size="63" text-anchor="start" transform="translate(1493.2 136.3) scale(1 1.07)">4%</text>
<text font-size="63" text-anchor="start" transform="translate(1791.5 257.4) scale(0.95 1.07)">3%</text>
<text font-size="63" text-anchor="start" transform="translate(1822.8 597.4) scale(1 1.07)">2%</text>
<text font-size="63" text-anchor="start" transform="translate(1765.5 748.0) scale(1 1.07)">1%</text>
</svg></body></html>
